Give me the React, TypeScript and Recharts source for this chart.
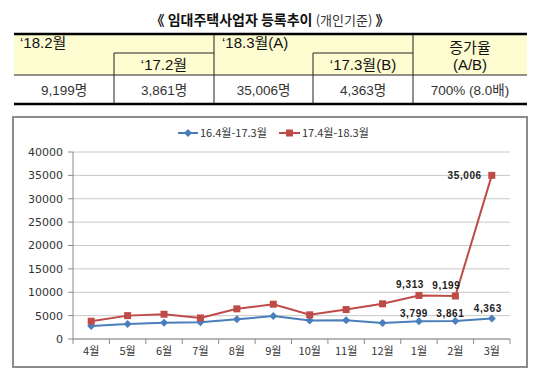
import React from 'react';
import { LineChart, Line, XAxis, YAxis, CartesianGrid, LabelList } from 'recharts';

// ---- data ----
const MONTHS = ['4월', '5월', '6월', '7월', '8월', '9월', '10월', '11월', '12월', '1월', '2월', '3월'];
const PREV = [2800, 3200, 3500, 3600, 4200, 4900, 3950, 4000, 3400, 3799, 3861, 4363];
const CURR = [3800, 5000, 5300, 4500, 6450, 7440, 5170, 6300, 7530, 9313, 9199, 35006];
const Y_TICKS = [0, 5000, 10000, 15000, 20000, 25000, 30000, 35000, 40000];
const SERIES_NAMES = ['16.4월-17.3월', '17.4월-18.3월'];
const LABELED_MONTHS = ['1월', '2월', '3월'];

const TITLE_MAIN = '《 임대주택사업자 등록추이 ';
const TITLE_SUB = '(개인기준)';
const TITLE_END = ' 》';
const HEAD_ROW1 = ['‘18.2월', '‘18.3월(A)', '증가율'];
const HEAD_ROW2 = ['‘17.2월', '‘17.3월(B)', '(A/B)'];
const BODY_ROW = ['9,199명', '3,861명', '35,006명', '4,363명', '700% (8.0배)'];

const data = MONTHS.map((m, i) => ({ month: m, prev: PREV[i], curr: CURR[i] }));

// ---- layout ----
const W = 540;
const H = 379;
const MARGIN = { top: 152, right: 30, bottom: 10, left: 23 };
const YAXIS_W = 50;
const XAXIS_H = 30;
const PLOT_W = W - MARGIN.left - MARGIN.right - YAXIS_W;
const HALF = PLOT_W / MONTHS.length / 2;
const X_TICK_SIZE = 5;
const X_TICK_MARGIN = 3;

const BLUE = '#4A7EBB';
const RED = '#BE4B48';
const AXIS = '#8a8a8a';
const KFONT = '"Noto Sans CJK KR", sans-serif';
const TFONT = '"Liberation Sans", "Noto Sans CJK KR", sans-serif';

const COLS = [14, 114, 214, 313, 413, 527];
const T_TOP = 34;
const T_MID = 53;
const T_HEAD = 75;
const T_BOT = 104;

const XTick = (props: any) => {
  const { x, y, payload, index } = props;
  const axisY = y - X_TICK_SIZE - X_TICK_MARGIN;
  return (
    <g>
      <line x1={x - HALF} x2={x - HALF} y1={axisY} y2={axisY + 5} stroke={AXIS} />
      {index === MONTHS.length - 1 && (
        <line x1={x + HALF} x2={x + HALF} y1={axisY} y2={axisY + 5} stroke={AXIS} />
      )}
      <text x={x} y={y} dy="0.71em" textAnchor="middle" fontSize={11} fill="#333" fontFamily={KFONT}>
        {payload.value}
      </text>
    </g>
  );
};

const Diamond = (p: any) => {
  const { cx, cy, index } = p;
  if (cx == null || cy == null) return <g key={index} />;
  return (
    <path
      key={index}
      d={`M${cx},${cy - 4}L${cx + 4},${cy}L${cx},${cy + 4}L${cx - 4},${cy}Z`}
      fill={BLUE}
    />
  );
};

const Square = (p: any) => {
  const { cx, cy, index } = p;
  if (cx == null || cy == null) return <g key={index} />;
  return <rect key={index} x={cx - 3.5} y={cy - 3.5} width={7} height={7} fill={RED} />;
};

const fmt = (v: number) => v.toLocaleString('en-US');

const labelStyle = {
  fontSize: 10,
  fontWeight: 700,
  fill: '#222',
  fontFamily: '"Liberation Sans", sans-serif',
  letterSpacing: 0.6,
};

const PrevLabel = (p: any) => {
  const { x, y, value, index } = p;
  if (!LABELED_MONTHS.includes(MONTHS[index])) return <g />;
  const last = index === MONTHS.length - 1;
  return (
    <text x={x - (last ? 4 : 5)} y={y - (last ? 6.5 : 4)} textAnchor="middle" style={labelStyle}>
      {fmt(value)}
    </text>
  );
};

const CurrLabel = (p: any) => {
  const { x, y, value, index } = p;
  if (!LABELED_MONTHS.includes(MONTHS[index])) return <g />;
  const last = index === MONTHS.length - 1;
  if (last) {
    return (
      <text x={x - 10} y={y + 4} textAnchor="end" style={labelStyle}>
        {fmt(value)}
      </text>
    );
  }
  return (
    <text x={x - 9} y={y - 7} textAnchor="middle" style={labelStyle}>
      {fmt(value)}
    </text>
  );
};

const Table = () => {
  const mid = (a: number, b: number) => (a + b) / 2;
  const line = '#222';
  return (
    <svg width={W} height={115} style={{ position: 'absolute', left: 0, top: 0 }}>
      <text x={270} y={25} textAnchor="middle" fontFamily={KFONT} fill="#111">
        <tspan fontSize={14} fontWeight={700}>{TITLE_MAIN}</tspan>
        <tspan fontSize={13} fontWeight={400} fill="#333">{TITLE_SUB}</tspan>
        <tspan fontSize={14} fontWeight={700}>{TITLE_END}</tspan>
      </text>
      <rect x={COLS[0]} y={T_TOP} width={COLS[5] - COLS[0]} height={T_HEAD - T_TOP} fill="#FEFDD2" />
      {/* horizontal lines */}
      <line x1={COLS[1]} x2={COLS[2]} y1={T_MID} y2={T_MID} stroke={line} />
      <line x1={COLS[3]} x2={COLS[4]} y1={T_MID} y2={T_MID} stroke={line} />
      <line x1={COLS[0]} x2={COLS[5]} y1={T_HEAD} y2={T_HEAD} stroke={line} />
      {/* vertical lines */}
      <line x1={COLS[1]} x2={COLS[1]} y1={T_MID} y2={T_BOT} stroke={line} />
      <line x1={COLS[2]} x2={COLS[2]} y1={T_TOP} y2={T_BOT} stroke={line} />
      <line x1={COLS[3]} x2={COLS[3]} y1={T_MID} y2={T_BOT} stroke={line} />
      <line x1={COLS[4]} x2={COLS[4]} y1={T_TOP} y2={T_BOT} stroke={line} />
      <line x1={COLS[0]} x2={COLS[5]} y1={T_TOP} y2={T_TOP} stroke="#000" strokeWidth={2.5} />
      <line x1={COLS[0]} x2={COLS[5]} y1={T_BOT} y2={T_BOT} stroke="#000" strokeWidth={2.5} />
      <g fontFamily={TFONT} fontSize={15} fill="#111">
        <text x={COLS[0] + 6} y={48}>{HEAD_ROW1[0]}</text>
        <text x={COLS[2] + 8} y={48}>{HEAD_ROW1[1]}</text>
        <text x={mid(COLS[4], COLS[5])} y={53} textAnchor="middle">{HEAD_ROW1[2]}</text>
        <text x={mid(COLS[1], COLS[2])} y={70} textAnchor="middle">{HEAD_ROW2[0]}</text>
        <text x={mid(COLS[3], COLS[4])} y={70} textAnchor="middle">{HEAD_ROW2[1]}</text>
        <text x={mid(COLS[4], COLS[5])} y={70} textAnchor="middle">{HEAD_ROW2[2]}</text>
      </g>
      <g fontFamily={TFONT} fontSize={13.5} fill="#333">
        {BODY_ROW.map((t, i) => (
          <text key={i} x={mid(COLS[i], COLS[i + 1])} y={95} textAnchor="middle">
            {t}
          </text>
        ))}
      </g>
    </svg>
  );
};

const Legend = () => (
  <svg width={W} height={20} style={{ position: 'absolute', left: 0, top: 123 }}>
    <line x1={178} x2={198} y1={10} y2={10} stroke={BLUE} strokeWidth={2} />
    <path d="M188,6L192,10L188,14L184,10Z" fill={BLUE} />
    <text x={200} y={14} fontSize={11} fill="#333" fontFamily={KFONT}>{SERIES_NAMES[0]}</text>
    <line x1={279} x2={300} y1={10} y2={10} stroke={RED} strokeWidth={2} />
    <rect x={286} y={6.5} width={7} height={7} fill={RED} />
    <text x={302} y={14} fontSize={11} fill="#333" fontFamily={KFONT}>{SERIES_NAMES[1]}</text>
  </svg>
);

export default function App() {
  return (
    <div style={{ position: 'absolute', left: 0, top: 0, width: W, height: H, background: '#fff', overflow: 'hidden' }}>
      <Table />
      <div
        style={{
          position: 'absolute',
          left: 12,
          top: 116,
          width: 516,
          height: 252,
          border: '2px solid #8c8c8c',
          boxSizing: 'border-box',
        }}
      />
      <Legend />
      <div style={{ position: 'absolute', left: 0, top: 0 }}>
        <LineChart width={W} height={H} data={data} margin={MARGIN}>
          <CartesianGrid vertical={false} stroke="#c8c8c8" />
          <XAxis
            dataKey="month"
            padding={{ left: HALF, right: HALF }}
            tickLine={false}
            tickSize={X_TICK_SIZE}
            tickMargin={X_TICK_MARGIN}
            tick={<XTick />}
            interval={0}
            height={XAXIS_H}
            axisLine={{ stroke: AXIS }}
          />
          <YAxis
            domain={[0, 40000]}
            ticks={Y_TICKS}
            interval={0}
            width={YAXIS_W}
            tickSize={5}
            tickMargin={5}
            tickLine={{ stroke: AXIS }}
            axisLine={{ stroke: AXIS }}
            tick={{ fontSize: 11, fill: '#333', fontFamily: '"DejaVu Sans", sans-serif' }}
          />
          <Line
            dataKey="prev"
            name={SERIES_NAMES[0]}
            stroke={BLUE}
            strokeWidth={2}
            dot={Diamond}
            activeDot={false}
            isAnimationActive={false}
          >
            <LabelList dataKey="prev" content={PrevLabel} />
          </Line>
          <Line
            dataKey="curr"
            name={SERIES_NAMES[1]}
            stroke={RED}
            strokeWidth={2}
            dot={Square}
            activeDot={false}
            isAnimationActive={false}
          >
            <LabelList dataKey="curr" content={CurrLabel} />
          </Line>
        </LineChart>
      </div>
    </div>
  );
}
